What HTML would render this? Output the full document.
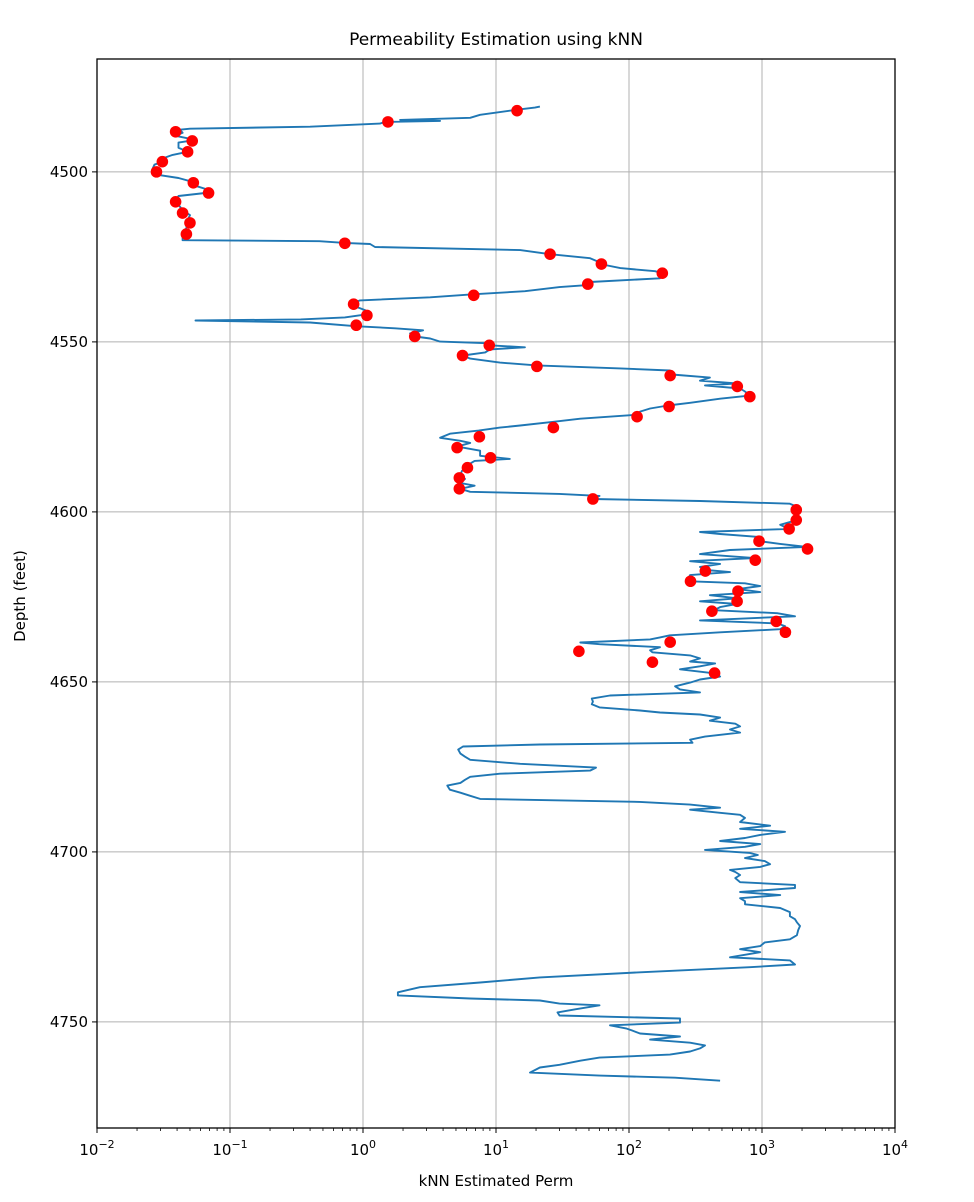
<!DOCTYPE html>
<html><head><meta charset="utf-8"><style>
html,body{margin:0;padding:0;background:#fff;}
svg{display:block;font-family:"DejaVu Sans","Liberation Sans",sans-serif;}
</style></head><body>
<svg id="chart" width="974" height="1202" viewBox="0 0 974 1202">
<rect width="974" height="1202" fill="#fff"/>
<text x="496" y="45" text-anchor="middle" font-size="17" fill="#000">Permeability Estimation using kNN</text>
<text x="496" y="1186" text-anchor="middle" font-size="15" fill="#000">kNN Estimated Perm</text>
<text transform="translate(25,596) rotate(-90)" text-anchor="middle" font-size="15" fill="#000">Depth (feet)</text>
<g id="grid"></g>
<g id="ticks"></g>
<g id="plot"></g>
<rect x="97" y="59" width="798" height="1069" fill="none" stroke="#000" stroke-width="1.3"/>
</svg>
<script>
const lineDepth=[4480.8,4481.1,4481.7,4483.2,4484.1,4484.7,4485.0,4485.3,4485.8,4486.7,4487.3,4487.6,4488.5,4489.4,4490.6,4491.4,4492.9,4494.1,4495.0,4495.9,4497.0,4497.9,4499.4,4500,4500.9,4501.8,4503.0,4504.1,4505.3,4506.2,4507.1,4508.3,4509.7,4511.2,4512.7,4514.2,4516.5,4518.6,4520.1,4520.4,4520.9,4521.2,4522.1,4523.0,4524.2,4525.4,4526.6,4527.4,4528.3,4529.2,4529.8,4531.3,4532.4,4533.3,4533.9,4535.1,4536.0,4536.9,4537.8,4538.4,4539.2,4540.7,4541.9,4542.8,4543.4,4543.7,4544.3,4545.4,4546.0,4546.6,4547.5,4548.4,4549.0,4549.9,4550.4,4551.0,4551.6,4552.2,4553.1,4554.0,4554.9,4556.1,4556.9,4557.8,4558.4,4559.6,4560.5,4561.4,4562.2,4562.8,4563.7,4564.6,4565.8,4566.7,4567.9,4568.7,4569.6,4570.5,4571.4,4572.6,4573.5,4574.6,4575.2,4576.1,4577.0,4578.2,4579.1,4579.7,4580.8,4582.0,4583.5,4584.4,4585.0,4585.8,4587.0,4587.9,4589.1,4590.3,4591.5,4592.3,4593.2,4594.1,4594.7,4595.3,4596.2,4596.8,4597.6,4598.5,4599.4,4600.9,4602.4,4603.8,4605.0,4605.9,4606.5,4607.4,4608.6,4609.4,4610.3,4611.2,4612.4,4613.6,4614.5,4615.3,4616.2,4617.1,4617.7,4618.6,4619.5,4620.4,4621.0,4621.8,4622.7,4623.6,4624.5,4625.4,4626.3,4627.1,4628.0,4628.9,4629.8,4630.7,4631.9,4632.8,4633.6,4634.5,4635.4,4636.3,4636.9,4637.5,4638.4,4638.9,4639.8,4640.7,4641.3,4642.2,4643.1,4644.0,4644.6,4645.4,4646.3,4647.5,4648.4,4649.3,4650.2,4651.3,4652.2,4653.1,4654.0,4654.9,4655.8,4656.6,4657.5,4658.4,4659.0,4659.6,4660.5,4661.4,4662.3,4663.1,4664.0,4664.9,4666.1,4667.0,4667.9,4668.4,4669.0,4669.9,4671.1,4672.0,4672.9,4674.1,4675.2,4676.1,4677.0,4677.9,4678.8,4679.7,4680.5,4681.7,4682.6,4683.5,4684.4,4685.3,4686.1,4687.0,4687.6,4688.5,4689.1,4690.0,4691.2,4692.3,4693.2,4694.1,4695.0,4695.9,4696.8,4697.7,4698.5,4699.4,4700.3,4700.9,4701.8,4702.7,4703.6,4704.4,4705.3,4705.9,4706.8,4707.7,4708.9,4709.7,4710.6,4711.8,4712.7,4713.6,4714.5,4715.4,4716.5,4717.7,4718.9,4719.8,4720.7,4721.8,4723.0,4724.5,4725.7,4726.6,4727.7,4728.6,4729.5,4731.0,4731.9,4733.1,4733.9,4735.4,4736.9,4738.4,4739.8,4741.3,4742.2,4743.1,4743.7,4744.6,4745.1,4746.3,4747.2,4748.1,4749.0,4750.2,4751.0,4751.9,4752.5,4753.4,4754.3,4755.2,4756.1,4756.9,4757.8,4758.7,4759.6,4760.5,4761.4,4762.6,4763.4,4764.9,4765.8,4766.4,4767.3];
const linePerm=[21.4,19.6,14.4,7.6,6.4,1.9,3.8,1.46,1.34,0.40,0.050,0.042,0.044,0.039,0.055,0.041,0.041,0.048,0.037,0.032,0.031,0.027,0.026,0.028,0.029,0.041,0.053,0.055,0.069,0.065,0.041,0.039,0.041,0.044,0.050,0.048,0.047,0.044,0.044,0.47,0.73,1.13,1.23,15.2,25.5,51,60,66,86,157,177,171,51,49,30,16.5,6.7,3.2,0.95,0.87,0.83,1.04,1.07,0.73,0.34,0.055,0.40,0.88,1.74,2.83,2.26,2.46,3.2,3.8,9.0,9.0,16.5,9.0,8.3,5.65,6.4,10.7,20.3,86,203,210,406,342,650,373,684,745,810,484,288,196,144,121,117,43,27,15.2,10.7,7.4,4.5,3.8,5.4,6.4,5.1,7.6,7.6,12.7,6.9,6.4,6.2,5.55,5.4,5.85,5.4,6.9,5.4,6.4,30,60,53.5,342,1620,1830,1830,1800,1830,1370,1600,342,484,970,950,1370,2180,575,342,885,288,484,342,380,575,288,280,288,745,970,660,970,406,650,342,650,484,437,1300,1770,342,1300,1490,1370,484,203,171,144,43,60,171,144,150,288,342,288,444,342,242,444,484,342,288,222,242,342,72,52.5,53.5,52.5,60,121,171,342,484,406,630,684,575,684,373,288,300,21.4,5.65,5.2,5.4,5.85,6.4,15.2,56.5,51,10.7,6.4,5.85,5.4,4.3,4.5,5.4,6.4,7.6,121,288,484,288,484,684,745,684,1150,684,1490,970,745,484,970,745,373,810,930,745,1050,1150,970,575,630,684,630,684,1770,1770,684,1370,684,745,745,1370,1620,1620,1770,1830,1930,1870,1830,1620,1050,970,684,970,575,1620,1770,810,121,21.4,7.6,2.68,1.83,1.83,6.4,21.4,30,60,39.5,29,30,242,242,72,95,105,121,242,144,288,373,342,288,203,60,43,30,21.4,18,60,222,484];
const dotDepth=[4482,4485.3,4488.2,4490.9,4494.1,4497,4500,4503.2,4506.2,4508.8,4512.1,4515,4518.3,4521,4524.2,4527.1,4529.8,4533,4536.3,4538.9,4542.2,4545.1,4548.4,4551,4554,4557.2,4559.9,4563.1,4566.1,4569,4572,4575.2,4577.9,4581.1,4584.1,4587,4590,4593.2,4596.2,4599.4,4602.4,4605,4608.6,4610.9,4614.2,4617.4,4620.4,4623.3,4626.3,4629.2,4632.2,4635.4,4638.3,4641,4644.2,4647.4];
const dotPerm=[14.4,1.54,0.039,0.052,0.048,0.031,0.028,0.053,0.069,0.039,0.044,0.050,0.047,0.73,25.5,62,178,49,6.8,0.85,1.07,0.89,2.45,8.9,5.6,20.3,204,652,810,200,115,27,7.5,5.1,9.1,6.1,5.3,5.3,53.5,1810,1810,1600,950,2200,890,375,290,660,650,420,1280,1500,204,42,150,440];
const xTickExp=[-2,-1,0,1,2,3,4];
const yTicks=[4500,4550,4600,4650,4700,4750];

const L=97,R=895,T=59,B=1128, D0=4466.8, D1=4781.2;
const X=v=>L+(Math.log10(v)+2)/6*(R-L);
const Y=d=>T+(d-D0)/(D1-D0)*(B-T);
const NS='http://www.w3.org/2000/svg';
function mk(tag,attrs,parent){const e=document.createElementNS(NS,tag);for(const k in attrs)e.setAttribute(k,attrs[k]);parent.appendChild(e);return e;}
const grid=document.getElementById('grid'),ticks=document.getElementById('ticks'),plot=document.getElementById('plot');
xTickExp.forEach(p=>{
  const x=X(Math.pow(10,p));
  const g=mk('line',{x1:x,x2:x,y1:T,y2:B,stroke:'#b0b0b0','stroke-width':1},grid);
  
  
  const t=mk('line',{x1:x,x2:x,y1:B,y2:B+5,stroke:'#000','stroke-width':1},ticks);
  
  
  const tx=mk('text',{x:x,y:B+27,'text-anchor':'middle','font-size':15,fill:'#000'},ticks);
  
  
  tx.textContent='10';
  const sup=mk('tspan',{dy:-7,'font-size':11},tx);sup.textContent=(p<0?'\u2212'+(-p):String(p));
  if(p<4){for(let m=2;m<=9;m++){const mx=X(m*Math.pow(10,p));
    const mt=mk('line',{x1:mx,x2:mx,y1:B,y2:B+3,stroke:'#000','stroke-width':0.8},ticks);
    
    }}
});
yTicks.forEach(d=>{
  const y=Y(d);
  const g=mk('line',{x1:L,x2:R,y1:y,y2:y,stroke:'#b0b0b0','stroke-width':1},grid);
  
  
  const t=mk('line',{x1:L-5,x2:L,y1:y,y2:y,stroke:'#000','stroke-width':1},ticks);
  
  
  const tx=mk('text',{x:L-9,y:y+5,'text-anchor':'end','font-size':15,fill:'#000'},ticks);
  
  
  tx.textContent=d;
});
const pts=lineDepth.map((d,i)=>X(linePerm[i]).toFixed(1)+','+Y(d).toFixed(1)).join(' ');
const pl=mk('polyline',{points:pts,fill:'none',stroke:'#1f77b4','stroke-width':1.9,'stroke-linejoin':'round'},plot);


dotDepth.forEach((d,i)=>{
  const c=mk('circle',{cx:X(dotPerm[i]),cy:Y(d),r:5.8,fill:'#ff0000'},plot);
  
  
});
</script>
</body></html>
